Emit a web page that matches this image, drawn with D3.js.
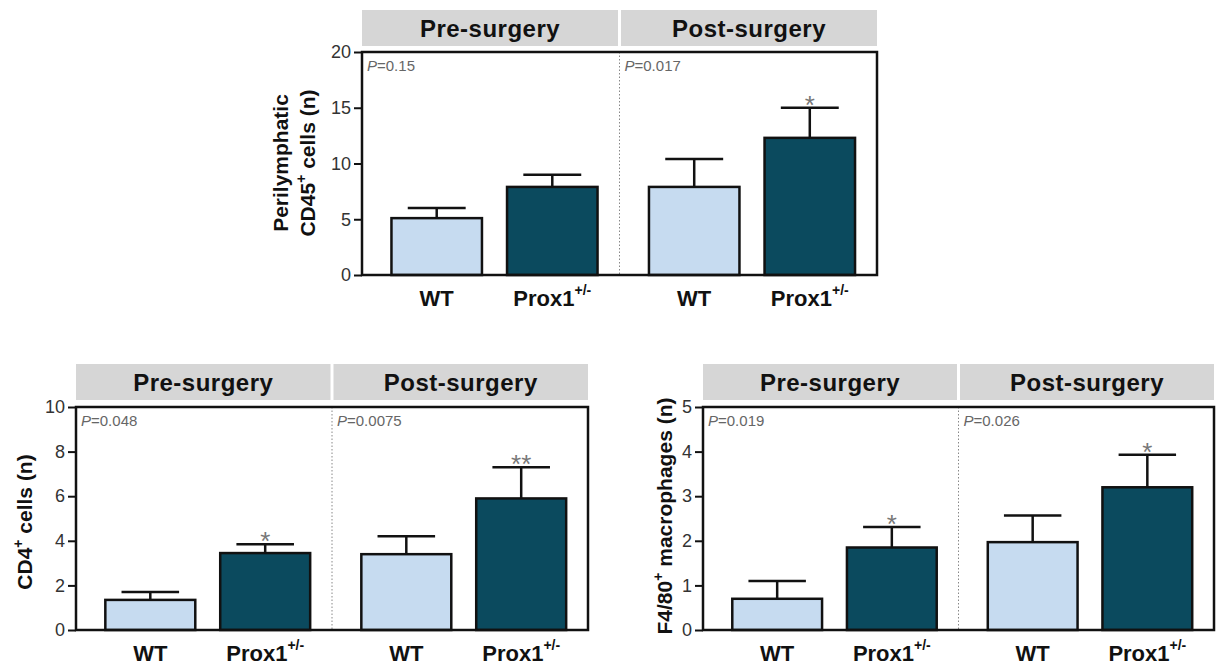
<!DOCTYPE html>
<html><head><meta charset="utf-8">
<script src="https://cdn.jsdelivr.net/npm/d3@7"></script>
<style>html,body{margin:0;padding:0;background:#fff}svg{display:block}</style>
</head><body>
<svg id="chart" width="1219" height="665"></svg>
<script>
// ---------- data ----------
const groups = ["Pre-surgery", "Post-surgery"];
const genotypes = ["WT", "Prox1"];
// order within each array: Pre WT, Pre Prox1, Post WT, Post Prox1
const cd45Mean = [5.1, 7.9, 7.9, 12.3];
const cd45Sem  = [0.9, 1.1, 2.5, 2.7];
const cd45Stars = ["", "", "", "*"];
const cd45P = ["0.15", "0.017"];
const cd45Ticks = [0, 5, 10, 15, 20];

const cd4Mean = [1.35, 3.45, 3.4, 5.9];
const cd4Sem  = [0.35, 0.4, 0.8, 1.4];
const cd4Stars = ["", "*", "", "**"];
const cd4P = ["0.048", "0.0075"];
const cd4Ticks = [0, 2, 4, 6, 8, 10];

const f480Mean = [0.7, 1.85, 1.97, 3.2];
const f480Sem  = [0.4, 0.46, 0.6, 0.73];
const f480Stars = ["", "*", "", "*"];
const f480P = ["0.019", "0.026"];
const f480Ticks = [0, 1, 2, 3, 4, 5];

// ---------- drawing ----------
const FONT = "'Liberation Sans', Arial, Helvetica, sans-serif";
const svg = d3.select("#chart");
const colors = {WT: "#c6dbf0", Prox1: "#0b4a5e"};
const STAR = 26;

function panel(cfg) {
  const g = svg.append("g").attr("font-family", FONT);
  const {x0, x1, yTop, yBot, stripTop, means, sems, stars, pvals, ticks, labelLines, labelX, labelCy} = cfg;
  const yMax = d3.max(ticks);
  const y = d3.scaleLinear().domain([0, yMax]).range([yBot, yTop]);
  const outer = d3.scaleBand().domain(groups).range([x0, x1]).padding(0);
  const half = outer.bandwidth();
  const inner = d3.scaleBand().domain(genotypes).range([7.5, half]).paddingInner(0.217).paddingOuter(0.19);

  const data = [];
  groups.forEach((gr, gi) => genotypes.forEach((t, ti) => {
    const i = gi * 2 + ti;
    data.push({gr, t, mean: means[i], sem: sems[i], star: stars[i]});
  }));

  // strips
  groups.forEach((gr, gi) => {
    const sx = outer(gr) + (gi ? 1.5 : 0);
    const sw = half - 1.5;
    g.append("rect").attr("x", sx).attr("y", stripTop).attr("width", sw).attr("height", 36).attr("fill", "#d6d6d6");
    g.append("text").attr("x", sx + sw / 2).attr("y", stripTop + 27).attr("text-anchor", "middle")
      .attr("font-size", 24).attr("font-weight", "bold").attr("letter-spacing", 0.5).attr("fill", "#111").text(gr);
  });

  // divider
  g.append("line").attr("x1", outer("Post-surgery")).attr("x2", outer("Post-surgery"))
    .attr("y1", yTop).attr("y2", yBot).attr("stroke", "#888").attr("stroke-width", 1).attr("stroke-dasharray", "1.5,2");

  // bars
  g.selectAll("rect.bar").data(data).join("rect").attr("class", "bar")
    .attr("x", d => outer(d.gr) + inner(d.t)).attr("width", inner.bandwidth())
    .attr("y", d => y(d.mean)).attr("height", d => yBot - y(d.mean))
    .attr("fill", d => colors[d.t]).attr("stroke", "#111").attr("stroke-width", 2.5);

  // error bars (upper only)
  const capW = inner.bandwidth() * 0.64;
  data.forEach(d => {
    const cx = outer(d.gr) + inner(d.t) + inner.bandwidth() / 2;
    const yt = y(d.mean + d.sem);
    g.append("line").attr("x1", cx).attr("x2", cx).attr("y1", y(d.mean)).attr("y2", yt)
      .attr("stroke", "#111").attr("stroke-width", 2.5);
    g.append("line").attr("x1", cx - capW / 2).attr("x2", cx + capW / 2).attr("y1", yt).attr("y2", yt)
      .attr("stroke", "#111").attr("stroke-width", 2.5);
    if (d.star) {
      g.append("text").attr("x", cx).attr("y", yt - 9 + 0.58 * STAR).attr("text-anchor", "middle")
        .attr("font-size", STAR).attr("fill", "#777").text(d.star);
    }
    // x label
    const lab = g.append("text").attr("x", cx).attr("y", yBot + 31).attr("text-anchor", "middle")
      .attr("font-size", 22).attr("font-weight", "bold").attr("fill", "#111");
    if (d.t === "WT") lab.text("WT");
    else {
      lab.append("tspan").text("Prox1");
      lab.append("tspan").attr("font-size", 14).attr("dy", -11).text("+/-");
    }
  });

  // frame
  g.append("rect").attr("x", x0).attr("y", yTop).attr("width", x1 - x0).attr("height", yBot - yTop)
    .attr("fill", "none").attr("stroke", "#111").attr("stroke-width", 2.5);

  // axis
  const ax = g.append("g").attr("transform", `translate(${x0},0)`)
    .call(d3.axisLeft(y).tickValues(ticks).tickSize(8).tickPadding(3).tickFormat(d3.format("d")));
  ax.select(".domain").remove();
  ax.selectAll(".tick line").attr("stroke", "#111").attr("stroke-width", 2);
  ax.selectAll(".tick text").attr("font-size", 18).attr("font-family", FONT).attr("fill", "#333");

  // p-values
  groups.forEach((gr, gi) => {
    const t = g.append("text").attr("x", outer(gr) + 5).attr("y", yTop + 19)
      .attr("font-size", 15).attr("fill", "#666");
    t.append("tspan").attr("font-style", "italic").text("P");
    t.append("tspan").text("=" + pvals[gi]);
  });

  // y label
  labelLines.forEach((ln, li) => {
    const t = g.append("text").attr("transform", `translate(${labelX[li]},${labelCy}) rotate(-90)`)
      .attr("text-anchor", "middle").attr("font-size", 21).attr("font-weight", "bold").attr("fill", "#111");
    ln.forEach(part => {
      if (part.sup) t.append("tspan").attr("font-size", 14).attr("dy", -9).text(part.text);
      else t.append("tspan").attr("dy", part.after ? 9 : 0).text(part.text);
    });
  });
}

panel({x0: 362, x1: 877, yTop: 52, yBot: 275, stripTop: 10,
  means: cd45Mean, sems: cd45Sem, stars: cd45Stars, pvals: cd45P, ticks: cd45Ticks,
  labelLines: [[{text: "Perilymphatic"}], [{text: "CD45"}, {text: "+", sup: true}, {text: " cells (n)", after: true}]],
  labelX: [288, 315], labelCy: 163});

panel({x0: 76, x1: 588, yTop: 407, yBot: 630, stripTop: 364,
  means: cd4Mean, sems: cd4Sem, stars: cd4Stars, pvals: cd4P, ticks: cd4Ticks,
  labelLines: [[{text: "CD4"}, {text: "+", sup: true}, {text: " cells (n)", after: true}]],
  labelX: [32], labelCy: 522});

panel({x0: 703, x1: 1214, yTop: 407, yBot: 630, stripTop: 364,
  means: f480Mean, sems: f480Sem, stars: f480Stars, pvals: f480P, ticks: f480Ticks,
  labelLines: [[{text: "F4/80"}, {text: "+", sup: true}, {text: " macrophages (n)", after: true}]],
  labelX: [672], labelCy: 516});
</script>
</body></html>
